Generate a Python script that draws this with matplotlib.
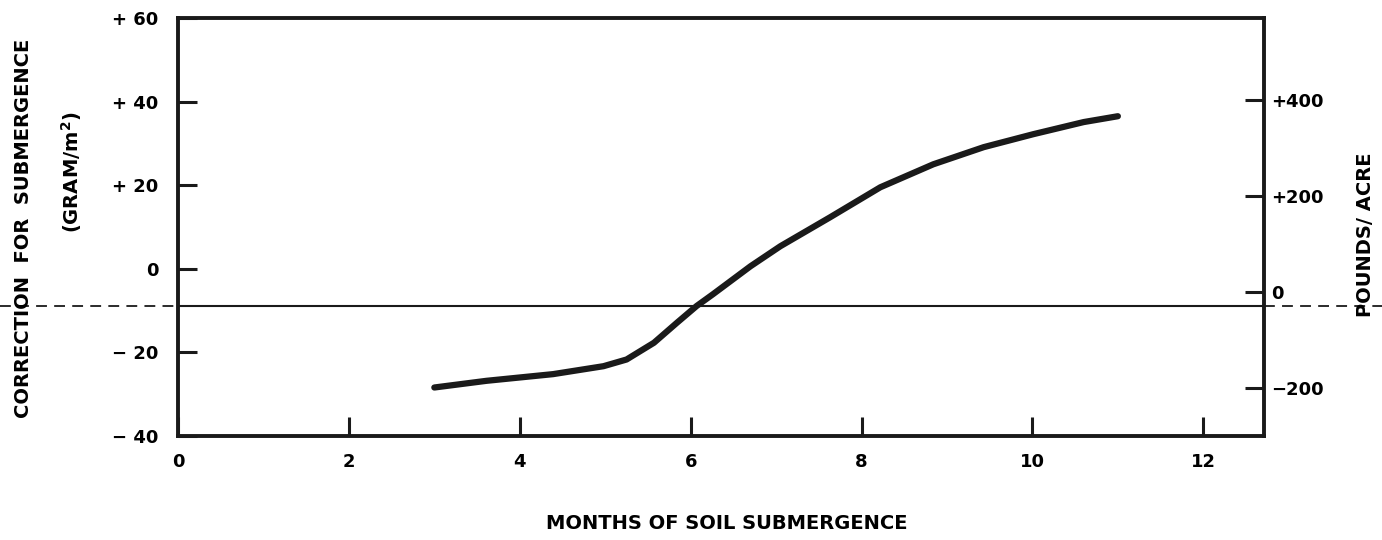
import matplotlib.pyplot as plt

# curve
months = [3.0, 3.61, 4.39, 4.98, 5.25, 5.57, 5.84, 6.07, 6.26, 6.70, 7.05, 7.63,
          8.22, 8.84, 9.43, 10.01, 10.60, 11.0]
correction = [-28.4, -26.8, -25.2, -23.3, -21.7, -17.7, -12.9, -8.9, -6.1, 0.6, 5.4, 12.3,
              19.5, 25.0, 29.1, 32.2, 35.1, 36.5]
baseline = -9.0

x_ticks = [0, 2, 4, 6, 8, 10, 12]
y_ticks = [-40, -20, 0, 20, 40, 60]
y_labels = ["\u2212 40", "\u2212 20", "0", "+ 20", "+ 40", "+ 60"]
lb_ticks = [-200, 0, 200, 400]
lb_labels = ["\u2212200", "0", "+200", "+400"]

# pounds/acre = (g/m2 + offset) * factor
LB_OFFSET = 5.5
LB_FACTOR = 8.7

plt.rcParams['font.family'] = ['DejaVu Sans']
plt.rcParams['font.weight'] = 'bold'
INK = '#1a1a1a'

fig = plt.figure(figsize=(13.82, 5.4), dpi=100)
ax = fig.add_axes([0.1288, 0.1926, 0.7858, 0.7741])

ax.plot(months, correction, color=INK, lw=4.5, solid_capstyle='round', solid_joinstyle='round')
ax.axhline(baseline, color=INK, lw=1.5)

ax.set_xlim(0, 12.71)
ax.set_ylim(-40, 60)
ax.set_xticks(x_ticks)
ax.set_xticklabels([str(t) for t in x_ticks], fontsize=13, fontweight='bold')
ax.set_yticks(y_ticks)
ax.set_yticklabels(y_labels, fontsize=13, fontweight='bold')
ax.tick_params(direction='in', length=14, width=2.2, color=INK, pad=14)
ax.tick_params(axis='x', pad=12)
for s in ax.spines.values():
    s.set_linewidth(2.8)
    s.set_color(INK)

ax2 = ax.twinx()
ax2.set_ylim((-40 + LB_OFFSET) * LB_FACTOR, (60 + LB_OFFSET) * LB_FACTOR)
ax2.set_yticks(lb_ticks)
ax2.set_yticklabels(lb_labels, fontsize=13, fontweight='bold')
ax2.tick_params(direction='in', length=14, width=2.2, color=INK, pad=5)
for s in ax2.spines.values():
    s.set_visible(False)

# baseline continues dashed outside the frame
yb = ax.transData.transform((0, baseline))[1] / fig.bbox.height
fig.add_artist(plt.Line2D([0.0, 0.1288], [yb, yb], transform=fig.transFigure,
                          color=INK, lw=1.3, ls=(0, (6, 4))))
fig.add_artist(plt.Line2D([0.9146, 1.0], [yb, yb], transform=fig.transFigure,
                          color=INK, lw=1.3, ls=(0, (6, 4))))

fig.text(0.526, 0.031, "MONTHS OF SOIL SUBMERGENCE", ha='center', va='center',
         fontsize=14, fontweight='bold')
fig.text(0.017, 0.578, "CORRECTION  FOR  SUBMERGENCE", rotation=90, ha='center', va='center',
         fontsize=14, fontweight='bold')
fig.text(0.052, 0.681, "(GRAM/m$^\\mathbf{2}$)", rotation=90, ha='center', va='center',
         fontsize=14, fontweight='bold')
fig.text(0.988, 0.565, "POUNDS/ ACRE", rotation=90, ha='center', va='center',
         fontsize=14, fontweight='bold')

fig.savefig("out.png", dpi=100)
